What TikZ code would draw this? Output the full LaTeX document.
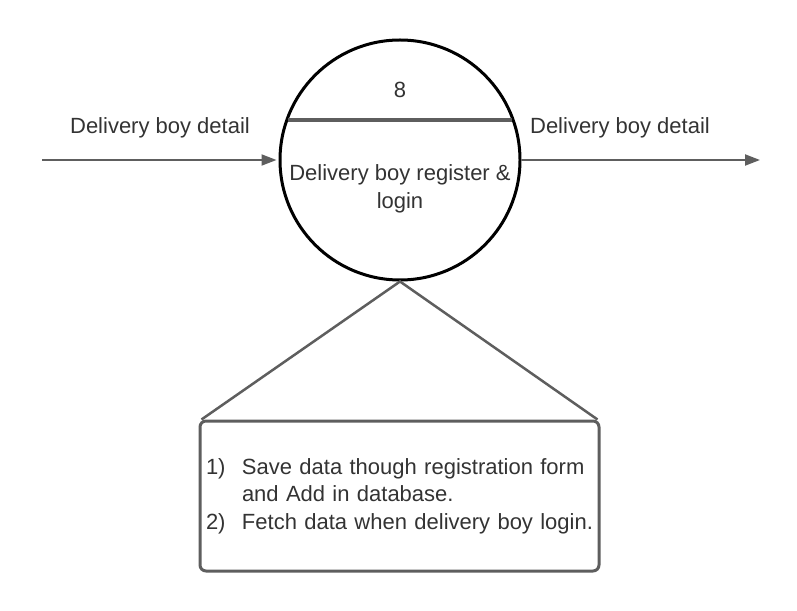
\documentclass[tikz,border=0pt]{standalone}
\usepackage{fontspec}
\setmainfont{Liberation Sans}
\usetikzlibrary{arrows.meta}
\definecolor{linegray}{HTML}{5E5E5E}
\definecolor{textgray}{HTML}{333333}
\begin{document}
\begin{tikzpicture}[x=1bp, y=-1bp]
% Styles
\tikzstyle{flow} = [-{Triangle[length=15bp, width=11bp]}, line width=2bp, draw=linegray]
\tikzstyle{label} = [font=\fontsize{22bp}{27.5bp}\selectfont, text=textgray, inner sep=0pt]
\tikzstyle{bubble} = [circle, draw=black, line width=3bp, minimum size=240bp, inner sep=0pt]
\tikzstyle{notebox} = [rectangle, rounded corners=6bp, draw=linegray, line width=3bp, minimum width=399bp, minimum height=150bp, align=left]

\useasboundingbox (0,0) rectangle (797,611);

% Process 8
\node[bubble] (proc) at (400,160) {};
\coordinate (divl) at (288,120);
\coordinate (divr) at (512,120);
\draw[linegray, line width=4bp] (divl) -- (divr);
\node[label] (num) at (400,90) {8};
\node[label, align=center] (title) at (400,189) {Delivery boy register \&\\login};

% Data flows
\coordinate (src) at (42,160);
\coordinate (sink) at (760,160);
\draw[flow, shorten >=2bp] (src) -- (proc.west);
\node[label] (inlabel) at (160,128) {Delivery boy detail};
\draw[flow] (proc.east) -- (sink);
\node[label] (outlabel) at (620,128) {Delivery boy detail};

% Description
\node[notebox, label, text width=387bp, inner xsep=6bp] (notes) at (399.5,496) {%
    \makebox[36bp][l]{1)}Save data though registration form\\
    \hspace*{36bp}and Add in database.\\
    \makebox[36bp][l]{2)}Fetch data when delivery boy login.%
};
\coordinate (tl) at ([xshift=3bp]notes.north west);
\coordinate (tr) at ([xshift=-3bp]notes.north east);
\draw[linegray, line width=2.5bp] (tl) -- (proc.south) -- (tr);
\end{tikzpicture}
\end{document}
